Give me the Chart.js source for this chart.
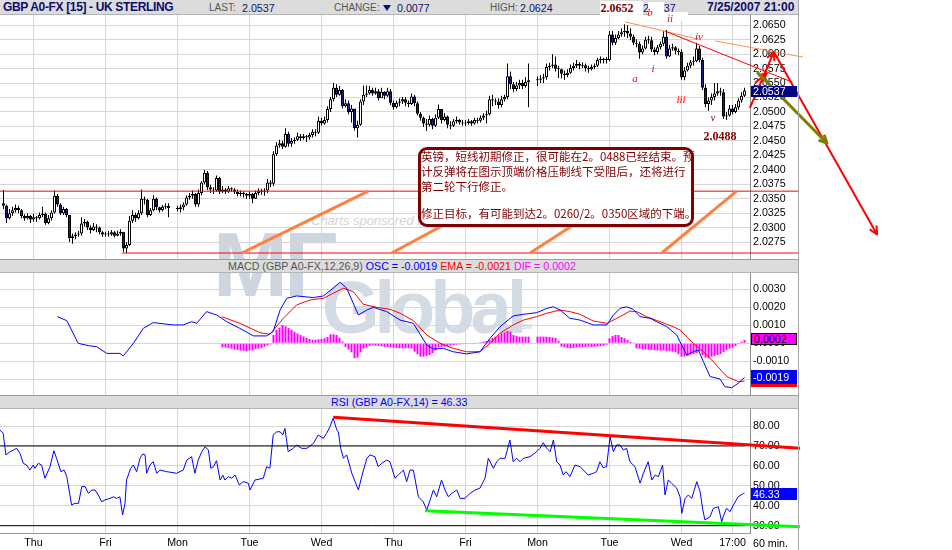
<!DOCTYPE html>
<html>
<head>
<meta charset="utf-8">
<title>GBP A0-FX [15] - UK STERLING</title>
<script src="https://cdn.jsdelivr.net/npm/chart.js@4.4.1/dist/chart.umd.min.js"></script>
<style>
html, body { margin:0; padding:0; background:#fff; }
#page { position:relative; width:952px; height:550px; overflow:hidden; font-family:"Liberation Sans", Arial, sans-serif; }
.strip { position:absolute; left:0; width:798px; height:12px; background:#dcdcdc; border-top:1px solid #9c9c9c; border-bottom:1px solid #b4b4b4; z-index:1; }
.wm { position:absolute; white-space:nowrap; z-index:0; }
canvas { position:absolute; left:0; z-index:2; }
.t { position:absolute; white-space:nowrap; z-index:4; font-size:10.67px; line-height:12px; }
.lab { color:#555; font-size:10px; }
.val { color:#101070; }
.box { position:absolute; left:751px; width:46px; z-index:4; font-size:10.67px; padding-left:2px; box-sizing:border-box; }
.rn { position:absolute; z-index:4; font-family:"Liberation Serif", "Times New Roman", serif; font-style:italic; color:#ff0000; font-size:11px; line-height:11px; transform:translate(-50%,-50%); white-space:nowrap; }
.big { font-style:normal; font-weight:bold; color:#800000; font-size:12px; }
.note { position:absolute; left:418px; top:147px; width:270px; height:74px; border:3px solid #800000; border-radius:9px; background:#fff; z-index:3; }
.nl { position:absolute; left:421px; z-index:4; font-family:"Noto Sans CJK SC", sans-serif; font-size:11.5px; line-height:15px; color:#800000; white-space:nowrap; }
</style>
</head>
<body>
<div id="page">
  <!-- watermark -->
  <div class="wm" style="left:311px;top:213px;font:italic 13px 'Liberation Sans';color:#d4d4d4">Charts sponsored by</div>
  <div class="wm" style="left:213px;top:220px;font:bold 90px/90px 'Liberation Sans';color:#cdd6e0;letter-spacing:-4px">MF</div>
  <div class="wm" style="left:322px;top:271px;font:bold 74px/74px 'Liberation Sans';color:#d3dbe4;letter-spacing:-5px">Global</div>
  <div class="wm" style="left:521px;top:323px;font:bold 7px 'Liberation Sans';color:#d3dbe4">SM</div>

  <!-- header strips -->
  <div class="strip" style="top:0;height:14px;border-top:0"></div>
  <div class="strip" style="top:259px"></div>
  <div class="strip" style="top:395px"></div>
  <div style="position:absolute;left:798px;top:0;width:1px;height:550px;background:#a8a8a8;z-index:4"></div>

  <div class="t" style="left:3px;top:1px;font-weight:bold;font-size:12px;letter-spacing:-0.35px;color:#0c0c6c">GBP A0-FX [15] - UK STERLING</div>
  <div class="t lab" style="left:209px;top:2px">LAST:</div>
  <div class="t val" style="left:242px;top:2px">2.0537</div>
  <div class="t lab" style="left:334px;top:2px">CHANGE:</div>
  <div style="position:absolute;left:383px;top:5px;width:0;height:0;border-left:4px solid transparent;border-right:4px solid transparent;border-top:6px solid #101070;z-index:4"></div>
  <div class="t val" style="left:397px;top:2px">0.0077</div>
  <div class="t lab" style="left:490px;top:2px">HIGH:</div>
  <div class="t val" style="left:520px;top:2px">2.0624</div>
  <div class="t val" style="left:643px;top:2px">2.0537</div>
  <div class="t" style="left:707px;top:1px;font-weight:bold;font-size:12px;color:#0c0c6c">7/25/2007 21:00</div>

  <div class="t" style="left:228px;top:260px"><span style="color:#555">MACD (GBP A0-FX,12,26,9)</span> <span style="color:#0000ff">OSC = -0.0019</span> <span style="color:#ff0000">EMA = -0.0021</span> <span style="color:#ff00ff">DIF = 0.0002</span></div>
  <div class="t" style="left:331px;top:396px;color:#0000ff">RSI (GBP A0-FX,14) = 46.33</div>
  <div class="t" style="left:753px;top:537px;color:#000">60 min.</div>

  <canvas id="price" width="952" height="244" style="top:15px"></canvas>
  <canvas id="macd" width="952" height="122" style="top:273px"></canvas>
  <canvas id="rsi" width="952" height="141" style="top:409px"></canvas>

  <!-- last-value boxes -->
  <div class="box" style="top:86px;height:11px;line-height:11px;background:#000080;color:#fff">2.0537</div>
  <div class="box" style="top:333px;height:12px;line-height:10px;background:#ff00ff;color:#000;border:1px solid #000">0.0002</div>
  <div class="box" style="top:384px;height:3px;background:#ff0000"></div>
  <div class="box" style="top:370px;height:14px;line-height:14px;background:#0000ff;color:#fff">-0.0019</div>
  <div class="box" style="top:488px;height:12px;line-height:12px;background:#0000ff;color:#fff">46.33</div>

  <!-- wave labels -->
  <div style="position:absolute;left:600px;top:1px;width:43px;height:14px;background:#fff;z-index:4"></div>
  <div class="rn big" style="left:617px;top:8px">2.0652</div>
  <div style="position:absolute;left:648px;top:2px;width:16px;height:15px;background:#fff;z-index:4"></div>
  <div style="position:absolute;left:660px;top:12px;width:28px;height:9px;background:#fff;z-index:4"></div>
  <div class="rn" style="left:650px;top:12px">b</div>
  <div class="rn" style="left:670px;top:18px">ii</div>
  <div class="rn" style="left:635px;top:78px">a</div>
  <div class="rn" style="left:653px;top:68px">i</div>
  <div class="rn" style="left:681px;top:99px">iii</div>
  <div class="rn" style="left:699px;top:36px">iv</div>
  <div class="rn" style="left:713px;top:117px;color:#800000">v</div>
  <div class="rn big" style="left:720px;top:136px">2.0488</div>

  <!-- comment box -->
  <div class="note"></div>
  <div class="nl" style="top:149px">英镑，短线初期修正，很可能在2。0488已经结束。预</div>
  <div class="nl" style="top:164px">计反弹将在图示顶端价格压制线下受阻后，还将进行</div>
  <div class="nl" style="top:179px">第二轮下行修正。</div>
  <div class="nl" style="top:206px">修正目标，有可能到达2。0260/2。0350区域的下端。</div>
</div>

<script>
// hourly bars; hour 0 = first Thursday 00:00, weekend hours skipped
const firstHour = -10;
const firstOpen = 2.0342;

const closes = [
  2.0338,2.0316,2.0325,2.0330,2.0334,2.0330,2.0320,2.0316,2.0320,2.0314,
  2.0318,2.0316,2.0322,2.0324,2.0308,2.0316,2.0326,2.0355,2.0340,2.0325,2.0332,2.0322,
  2.0282,2.0285,2.0288,2.0290,2.0307,2.0310,2.0300,2.0296,2.0302,2.0300,2.0292,2.0288,
  2.0289,2.0288,2.0292,2.0286,2.0290,2.0293,2.0264,2.0270,2.0312,2.0322,2.0316,2.0325,
  2.0350,2.0348,2.0322,2.0330,2.0350,2.0335,2.0330,2.0336,2.0338,2.0334,null,null,
  2.0332,2.0335,2.0340,2.0352,2.0355,2.0358,2.0340,2.0360,2.0378,2.0395,2.0370,2.0366,
  2.0364,2.0386,2.0362,2.0366,2.0362,2.0368,2.0366,2.0362,2.0358,2.0360,2.0358,2.0355,
  2.0358,2.0350,2.0360,2.0364,2.0362,2.0364,2.0378,2.0376,2.0427,2.0442,2.0446,2.0440,
  2.0462,2.0445,2.0450,2.0452,2.0458,2.0455,2.0458,2.0456,2.0460,2.0466,2.0464,2.0485,
  2.0480,2.0486,2.0505,2.0522,2.0542,2.0530,2.0538,2.0510,2.0515,2.0500,2.0506,2.0472,
  2.0478,2.0518,2.0530,2.0532,2.0538,2.0532,2.0536,2.0524,2.0535,2.0528,2.0536,2.0516,
  2.0508,2.0516,2.0518,2.0522,2.0516,2.0514,2.0527,2.0515,2.0497,2.0490,2.0480,2.0478,
  2.0488,2.0476,2.0490,2.0505,2.0486,2.0492,2.0478,2.0476,2.0484,2.0486,2.0482,2.0480,
  2.0481,2.0484,2.0480,2.0486,2.0485,2.0490,2.0494,2.0496,2.0522,2.0520,2.0518,2.0512,
  2.0522,2.0526,2.0562,2.0548,2.0540,2.0546,2.0550,2.0545,2.0552,2.0555,null,null,
  2.0556,2.0558,2.0560,2.0578,2.0580,2.0582,2.0575,2.0574,2.0566,2.0564,2.0568,2.0576,
  2.0580,2.0583,2.0580,2.0581,2.0576,2.0574,2.0578,2.0580,2.0590,2.0592,2.0590,2.0590,
  2.0634,2.0620,2.0628,2.0634,2.0638,2.0640,2.0636,2.0630,2.0620,2.0618,2.0603,2.0610,
  2.0625,2.0624,2.0608,2.0604,2.0612,2.0618,2.0630,2.0596,2.0610,2.0612,2.0606,2.0604,
  2.0560,2.0572,2.0580,2.0586,2.0588,2.0610,2.0590,2.0542,2.0514,2.0520,2.0526,2.0532,
  2.0536,2.0534,2.0492,2.0494,2.0506,2.0500,2.0508,2.0520,2.0528,2.0537
];
const highs = [
  2.0365,2.0340,2.0332,2.0336,2.0340,2.0338,2.0332,2.0323,2.0325,2.0322,
  2.0324,2.0320,2.0326,2.0336,2.0326,2.0322,2.0330,2.0364,2.0358,2.0342,2.0336,2.0334,
  2.0322,2.0290,2.0292,2.0294,2.0318,2.0315,2.0312,2.0304,2.0308,2.0306,2.0302,2.0294,
  2.0293,2.0294,2.0296,2.0294,2.0295,2.0297,2.0290,2.0275,2.0320,2.0330,2.0326,2.0330,
  2.0366,2.0354,2.0350,2.0334,2.0356,2.0352,2.0336,2.0339,2.0342,2.0342,null,null,
  2.0338,2.0340,2.0344,2.0356,2.0360,2.0364,2.0360,2.0366,2.0380,2.0400,2.0398,2.0374,
  2.0370,2.0390,2.0388,2.0372,2.0368,2.0372,2.0370,2.0368,2.0366,2.0364,2.0362,2.0360,
  2.0362,2.0360,2.0364,2.0368,2.0367,2.0368,2.0384,2.0382,2.0432,2.0448,2.0452,2.0450,
  2.0472,2.0466,2.0455,2.0456,2.0464,2.0462,2.0462,2.0460,2.0464,2.0470,2.0470,2.0492,
  2.0490,2.0492,2.0510,2.0526,2.0550,2.0548,2.0545,2.0540,2.0522,2.0520,2.0512,2.0505,
  2.0485,2.0522,2.0546,2.0546,2.0545,2.0542,2.0542,2.0540,2.0542,2.0536,2.0542,2.0540,
  2.0520,2.0520,2.0524,2.0526,2.0526,2.0520,2.0532,2.0530,2.0518,2.0500,2.0492,2.0488,
  2.0494,2.0490,2.0496,2.0513,2.0505,2.0498,2.0494,2.0484,2.0488,2.0492,2.0488,2.0486,
  2.0486,2.0488,2.0486,2.0490,2.0490,2.0494,2.0498,2.0502,2.0528,2.0530,2.0524,2.0524,
  2.0528,2.0530,2.0584,2.0570,2.0552,2.0552,2.0556,2.0556,2.0560,2.0584,null,null,
  2.0562,2.0564,2.0566,2.0584,2.0585,2.0600,2.0596,2.0580,2.0575,2.0572,2.0574,2.0582,
  2.0585,2.0590,2.0586,2.0586,2.0584,2.0580,2.0582,2.0584,2.0594,2.0596,2.0594,2.0595,
  2.0640,2.0640,2.0634,2.0640,2.0645,2.0652,2.0650,2.0645,2.0634,2.0626,2.0622,2.0615,
  2.0630,2.0632,2.0630,2.0612,2.0616,2.0622,2.0640,2.0642,2.0616,2.0618,2.0614,2.0610,
  2.0608,2.0578,2.0585,2.0590,2.0596,2.0620,2.0614,2.0594,2.0548,2.0525,2.0532,2.0550,
  2.0550,2.0542,2.0540,2.0500,2.0512,2.0512,2.0514,2.0524,2.0534,2.0542
];
const lows = [
  2.0332,2.0308,2.0314,2.0320,2.0326,2.0325,2.0316,2.0312,2.0314,2.0308,
  2.0310,2.0310,2.0314,2.0318,2.0305,2.0306,2.0312,2.0324,2.0336,2.0322,2.0322,2.0318,
  2.0275,2.0272,2.0280,2.0284,2.0286,2.0302,2.0296,2.0290,2.0294,2.0292,2.0288,2.0284,
  2.0284,2.0284,2.0286,2.0283,2.0285,2.0286,2.0258,2.0256,2.0268,2.0308,2.0310,2.0314,
  2.0322,2.0340,2.0318,2.0320,2.0328,2.0330,2.0326,2.0328,2.0332,2.0318,null,null,
  2.0328,2.0326,2.0330,2.0338,2.0348,2.0350,2.0336,2.0336,2.0356,2.0375,2.0365,2.0360,
  2.0358,2.0362,2.0358,2.0360,2.0358,2.0360,2.0362,2.0358,2.0354,2.0354,2.0352,2.0350,
  2.0350,2.0342,2.0350,2.0356,2.0357,2.0355,2.0360,2.0370,2.0372,2.0424,2.0438,2.0436,
  2.0438,2.0440,2.0440,2.0445,2.0450,2.0450,2.0452,2.0448,2.0452,2.0456,2.0458,2.0462,
  2.0476,2.0478,2.0482,2.0500,2.0518,2.0526,2.0528,2.0506,2.0508,2.0496,2.0482,2.0468,
  2.0456,2.0476,2.0512,2.0526,2.0530,2.0528,2.0530,2.0520,2.0526,2.0522,2.0526,2.0512,
  2.0504,2.0506,2.0510,2.0514,2.0510,2.0508,2.0512,2.0510,2.0494,2.0485,2.0474,2.0467,
  2.0475,2.0470,2.0474,2.0488,2.0480,2.0484,2.0472,2.0470,2.0474,2.0480,2.0478,2.0476,
  2.0476,2.0478,2.0476,2.0478,2.0480,2.0482,2.0486,2.0480,2.0494,2.0510,2.0512,2.0506,
  2.0508,2.0518,2.0522,2.0540,2.0534,2.0536,2.0540,2.0540,2.0542,2.0508,null,null,
  2.0545,2.0550,2.0550,2.0556,2.0572,2.0576,2.0570,2.0559,2.0558,2.0556,2.0560,2.0566,
  2.0572,2.0576,2.0574,2.0576,2.0570,2.0568,2.0572,2.0574,2.0578,2.0584,2.0584,2.0584,
  2.0588,2.0615,2.0616,2.0626,2.0630,2.0630,2.0628,2.0624,2.0616,2.0612,2.0592,2.0600,
  2.0608,2.0618,2.0604,2.0598,2.0600,2.0608,2.0614,2.0592,2.0595,2.0606,2.0600,2.0598,
  2.0556,2.0555,2.0570,2.0576,2.0580,2.0586,2.0586,2.0538,2.0508,2.0502,2.0512,2.0520,
  2.0528,2.0528,2.0488,2.0486,2.0492,2.0496,2.0498,2.0504,2.0516,2.0526
];

const dayHours  = [0, 24, 48, 72, 96, 120, 144, 168, 192, 216, 233];
const dayLabels = ['Thu','Fri','Mon','Tue','Wed','Thu','Fri','Mon','Tue','Wed','17:00'];

const priceTicks = [2.0275,2.0300,2.0325,2.0350,2.0375,2.0400,2.0425,2.0450,2.0475,2.0500,2.0525,2.0550,2.0575,2.0600,2.0625,2.0650];
const macdTicks  = [-0.002,-0.001,0,0.001,0.002,0.003];
const rsiTicks   = [30,40,50,60,70,80];

// MACD (blue) and its EMA signal (red), read at turning points
const macdHours = [7.9,11.1,14.9,18.3,21.1,24.4,28.8,29.9,33.3,36.6,39.9,46.6,49.9,52.7,54.4,57.7,61.1,64.4,68.8,73.3,77.7,79.9,82.2,84.4,87.7,93.3,96.6,99.9,102.2,104.4,108.3,111.1,113.3,117.7,122.2,126.6,131.1,133.3,136.6,139.9,144.4,148.8,152.2,155.5,159.9,163.3,167.7,171.1,173.3,175.5,178.8,182.2,186.6,191.1,193.3,195.5,197.7,199.9,202.2,205.5,207.7,211.1,214.4,217.7,219.9,221.6,223.3,225.5,228.8,230.5,232.7,234.9,237];
const macdLine  = [0.00148,0.00126,0,-0.00013,-0.00019,-0.00056,-0.00056,-0.00071,0,0.00083,0.00115,0.00102,0.00102,0.0012,0.00111,0.00176,0.00157,0.0012,0.00083,0.00041,0.00041,0.00065,0.00185,0.0025,0.00263,0.00254,0.00263,0.00306,0.00339,0.00306,0.00157,0.00185,0.002,0.00176,0.00129,0.00111,-0.0001,-0.00032,-0.00028,-0.00047,-0.00059,-0.00047,0.00028,0.00092,0.00152,0.00161,0.0017,0.00194,0.00203,0.00185,0.00139,0.00129,0.00102,0.00102,0.00157,0.00194,0.00203,0.00189,0.00148,0.00139,0.0012,0.00092,0.00046,-0.00065,-0.00047,-0.00037,-0.00102,-0.00185,-0.00198,-0.00241,-0.00247,-0.00222,-0.0019];
const signalHours = [62.7,68.8,75.5,78.8,83.3,87.7,92.2,96.6,99.9,103.3,106.6,109.9,114.4,118.8,122.2,126.6,131.1,135.5,139.9,144.4,148.8,152.2,155.5,159.9,163.3,167.7,171.1,175.5,178.8,182.2,186.6,191.1,195.5,198.8,201.1,204.4,208.8,213.3,215.5,219.9,223.3,226.6,231.1,234.9,237];
const signalLine  = [0.00148,0.00111,0.00059,0.0005,0.00139,0.00213,0.00241,0.0025,0.00278,0.00306,0.00287,0.00217,0.002,0.00189,0.00167,0.00126,0.00046,0,-0.00028,-0.00047,-0.00047,0,0.00056,0.00102,0.00129,0.00148,0.00167,0.00185,0.00176,0.00161,0.00124,0.00111,0.00148,0.00179,0.00176,0.00148,0.0012,0.00092,0.00074,0,-0.00047,-0.00102,-0.00185,-0.00213,-0.0021];

// MACD histogram, one bar per hour starting at histStart
const histStart = 63;
const histogram = [
  -0.00022,-0.00024,-0.00026,-0.0003,-0.00035,-0.00037,-0.0004,-0.00042,-0.00043,-0.0004,-0.00038,-0.00032,-0.0003,-0.00026,-0.0002,-0.00012,-0.00006,
  0.00046,0.00075,0.00087,0.00102,0.00095,0.00085,0.00075,0.00065,0.00055,0.00046,0.00038,0.0003,0.00024,0.0002,0.0002,0.00022,0.00024,0.00028,0.00035,0.0005,
  0.0005,0.00046,0.0003,0.0001,-0.0002,-0.00035,-0.0005,-0.00083,-0.0008,-0.0005,-0.0003,-0.00024,-0.00015,-0.00012,-0.00013,-0.00014,-0.00017,-0.0002,-0.0002,-0.00022,
  -0.00024,-0.00026,-0.00028,-0.00028,-0.00028,-0.00028,-0.0003,-0.00046,-0.0006,-0.00074,-0.00074,-0.0007,-0.00065,-0.00055,-0.0004,-0.00022,-0.0002,-0.00018,-0.00015,-0.00012,
  -0.0001,-0.00008,-0.00006,-0.00005,-0.00004,-0.00003,-0.00002,-0.00001,0.00002,0.00005,0.0001,0.00013,0.0002,0.0003,0.00037,0.00045,0.00056,0.0006,0.00068,0.00065,
  0.00046,0.0004,0.00037,0.00037,0.00037,0.00037,null,null,0.00037,0.00037,0.00037,0.00037,0.00035,0.00033,0.0003,0.00013,-0.00018,-0.00022,-0.00026,-0.00028,
  -0.00026,-0.00024,-0.00022,-0.00022,-0.0002,-0.00018,-0.0002,-0.0002,-0.00018,-0.00016,-0.00014,-0.00008,0.00028,0.0004,0.00046,0.00046,0.00035,0.00028,0.00018,0.00008,
  0.00004,-0.00028,-0.0003,-0.00032,-0.00034,-0.00036,-0.00037,-0.00038,-0.0004,-0.0004,-0.0004,-0.00042,-0.00044,-0.00046,-0.0005,-0.0006,-0.00074,-0.00074,-0.0007,-0.00064,
  -0.0006,-0.00055,-0.00046,-0.00065,-0.0008,-0.00083,-0.00074,-0.0007,-0.00065,-0.0006,-0.00048,-0.00037,-0.0003,-0.00025,-0.00015,-0.00005,0.00008,0.00019
];

// RSI(14)
const rsiHours = [-11.2,-10.1,-9.2,-7.8,-5.6,-4.5,-3.4,-2.3,-1.2,-0.1,0.5,1.6,2.7,3.8,5.5,6.8,7.7,9.1,10.2,11.1,12.7,13.8,15.0,16.1,17.2,18.3,19.4,20.5,21.6,22.7,23.8,25.5,26.6,27.7,28.8,29.7,30.5,31.0,32.4,33.3,34.4,35.5,36.4,37.2,37.7,38.8,39.9,41.1,42.2,44.4,47.7,49.9,51.1,52.7,53.8,54.9,56.1,57.2,58.3,59.1,60.0,61.0,62.2,63.1,63.8,64.9,66.1,67.2,68.6,69.9,71.6,72.2,73.8,76.6,77.7,78.8,79.9,81.1,82.2,83.1,83.8,84.9,86.6,87.7,89.4,91.1,93.3,94.9,96.6,97.7,98.8,99.9,101.1,101.6,102.4,103.3,104.4,106.1,108.3,109.4,111.1,112.2,113.8,114.9,116.1,117.7,118.8,120.5,121.6,123.3,124.4,125.5,126.6,128.3,129.9,131.1,132.2,133.3,134.4,136.0,137.2,138.3,139.4,141.1,142.2,143.8,145.5,147.2,148.8,150.5,151.6,153.3,154.4,155.5,157.2,158.8,159.9,161.0,162.2,163.3,165.5,167.7,168.8,169.9,171.1,172.2,173.3,174.4,175.5,176.6,177.5,178.8,180.5,182.2,183.3,184.9,186.6,187.7,188.8,189.9,191.0,192.2,193.3,194.4,195.5,196.6,197.7,198.8,200.5,202.2,203.3,204.9,206.1,207.2,208.3,209.7,210.5,211.6,212.7,214.4,215.5,216.1,217.2,218.3,219.4,221.1,222.2,223.1,223.8,225.5,226.6,228.3,229.4,229.9,231.0,232.2,233.3,234.9,236.6,237];
const rsiLine  = [78.0,76.3,65.5,67.1,68.8,66.3,61.3,60.4,57.9,60.4,58.8,61.3,60.4,53.8,59.6,67.6,63.8,57.1,57.9,54.6,40.4,41.2,41.2,49.6,49.6,46.2,47.9,47.9,45.4,42.0,42.9,43.7,44.5,43.7,44.5,35.4,41.2,52.9,58.8,60.4,57.1,63.8,66.0,65.5,56.3,60.4,62.1,56.3,57.9,57.1,56.3,57.9,62.9,64.6,56.3,62.9,67.1,69.6,68.0,58.8,59.6,62.6,52.9,55.4,52.9,54.6,53.8,55.4,50.4,52.1,51.3,47.9,52.9,53.8,59.6,58.8,75.5,77.1,77.1,75.5,78.8,67.1,68.8,70.5,68.8,68.8,71.3,75.5,73.8,76.3,79.6,83.9,78.0,77.1,68.8,63.8,65.5,56.3,47.9,54.6,63.8,65.5,64.6,59.6,61.3,62.9,62.1,53.8,55.4,57.9,52.1,57.9,57.9,44.5,42.0,37.9,42.9,47.9,44.5,52.9,47.9,44.5,46.2,47.9,43.7,43.7,46.2,47.9,48.8,53.8,63.8,58.8,62.1,63.8,63.8,73.0,62.1,63.8,62.1,63.8,64.6,67.1,68.8,71.6,68.8,67.1,73.0,62.1,60.4,55.4,57.1,54.6,60.4,59.6,57.9,55.4,56.3,57.1,62.1,59.1,59.6,74.6,67.1,70.5,70.5,68.0,68.8,62.1,59.6,51.3,56.3,62.1,52.9,55.4,54.6,60.4,45.4,52.9,51.3,48.8,44.5,36.2,43.7,45.4,43.7,52.1,47.1,37.9,32.9,34.5,38.7,39.5,32.0,34.5,38.7,37.0,40.4,44.5,46.2,46.33];

// analyst drawings, in [hour, value] coordinates
const priceDrawings = [
  { pts:[[-11.17,2.0363],[255.2,2.0363]], color:'#ff0000', width:1 },
  { pts:[[29.4,2.0256],[255.2,2.0256]], color:'#ff0000', width:1 },
  { pts:[[69.4,2.0256],[111.6,2.0363]], color:'#ff8040', width:3 },
  { pts:[[119.4,2.0256],[157.7,2.0363]], color:'#ff8040', width:3 },
  { pts:[[165.5,2.0256],[197.4,2.0363]], color:'#ff8040', width:3 },
  { pts:[[209.4,2.0256],[234.4,2.0363]], color:'#ff8040', width:3 },
  { pts:[[197.2,2.0656],[221.5,2.0626]], color:'#ff8c50', width:1 },
  { pts:[[210.5,2.0640],[252.8,2.0552]], color:'#ff0000', width:1 },
  { pts:[[227.2,2.0623],[256.5,2.0595]], color:'#ff8c50', width:1 },
  { pts:[[238.8,2.0507],[246.8,2.0604],[281.2,2.0288]], color:'#ff0000', width:2, arrow:true },
  { pts:[[240.5,2.0550],[244.4,2.0567]], color:'#ff0000', width:2, arrow:true },
  { pts:[[241.2,2.0569],[264.5,2.0446]], color:'#808000', width:3, arrow:true }
];
const rsiDrawings = [
  { pts:[[-11.17,70],[237.3,70]], color:'#000000', width:1 },
  { pts:[[-11.17,30],[237.3,30]], color:'#000000', width:1 },
  { pts:[[99.9,84.4],[255.5,68.8]], color:'#ff0000', width:3 },
  { pts:[[130.5,37.5],[255.5,29.5]], color:'#00ff00', width:3 }
];

const FONT = '"Liberation Sans", Arial, sans-serif';
const X_MIN = -11.1667, X_MAX = 238.8333;

// build candle pieces (an hourly FX bar opens at the previous close)
const wicks = [], bodies = [], bodyColors = [];
let prevClose = firstOpen;
closes.forEach((c, i) => {
  if (c == null) return;
  const h = firstHour + i;
  wicks.push({ x: h, y: [lows[i], highs[i]] });
  bodies.push({ x: h, y: [prevClose, c] });
  bodyColors.push(c >= prevClose ? '#ffffff' : '#1c1c82');
  prevClose = c;
});

const histBars = [];
histogram.forEach((v, i) => { if (v != null) histBars.push({ x: histStart + i, y: v }); });
const pairs = (xs, ys) => xs.map((h, i) => ({ x: h, y: ys[i] }));

function arrowHead(ctx, a, b, len) {
  const ang = Math.atan2(b[1] - a[1], b[0] - a[0]);
  ctx.beginPath();
  ctx.moveTo(b[0] - len * Math.cos(ang - 0.45), b[1] - len * Math.sin(ang - 0.45));
  ctx.lineTo(b[0], b[1]);
  ctx.lineTo(b[0] - len * Math.cos(ang + 0.45), b[1] - len * Math.sin(ang + 0.45));
  ctx.stroke();
}

function drawingsPlugin(list) {
  return {
    id: 'drawings',
    afterDraw(chart) {
      const { ctx } = chart, xs = chart.scales.x, ys = chart.scales.y;
      ctx.save();
      ctx.lineJoin = 'round';
      list.forEach(d => {
        const p = d.pts.map(([h, v]) => [xs.getPixelForValue(h), ys.getPixelForValue(v)]);
        ctx.strokeStyle = d.color;
        ctx.lineWidth = d.width;
        ctx.beginPath();
        p.forEach(([px, py], i) => i ? ctx.lineTo(px, py) : ctx.moveTo(px, py));
        ctx.stroke();
        if (d.arrow) for (let i = 1; i < p.length; i++) arrowHead(ctx, p[i - 1], p[i], 9);
      });
      ctx.restore();
    }
  };
}

function xScale(showLabels) {
  return {
    type: 'linear', min: X_MIN, max: X_MAX, offset: false,
    grid: { color: '#d6d6d6', drawTicks: false, offset: false },
    border: { display: showLabels, color: '#9a9a9a' },
    ticks: { display: showLabels, autoSkip: false, maxRotation: 0, padding: 4, color: '#000',
             font: { family: FONT, size: 10.67 }, callback: (v, i) => dayLabels[i] },
    afterBuildTicks: s => { s.ticks = dayHours.map(v => ({ value: v })); },
    afterFit: s => { s.height = showLabels ? 17 : 0; s.paddingLeft = 0; s.paddingRight = 0; }
  };
}
function yScale(min, max, ticks, digits) {
  return {
    type: 'linear', position: 'right', min, max,
    grid: { color: '#d6d6d6', drawTicks: false },
    border: { display: true, color: '#8c8c8c' },
    ticks: { color: '#000', padding: 3, autoSkip: false, font: { family: FONT, size: 10.67 }, callback: v => v.toFixed(digits) },
    afterBuildTicks: s => { s.ticks = ticks.map(v => ({ value: v })); },
    afterFit: s => { s.width = 50; s.paddingTop = 0; s.paddingBottom = 0; }
  };
}
const common = {
  responsive: false, animation: false, devicePixelRatio: 1, events: [],
  layout: { padding: { left: 0, right: 152, top: 0, bottom: 0 } },
  plugins: { legend: { display: false }, tooltip: { enabled: false } }
};

new Chart(document.getElementById('price'), {
  type: 'bar',
  data: { datasets: [
    { data: wicks, backgroundColor: '#000', borderWidth: 0, barThickness: 1, inflateAmount: 0, grouped: false, order: 2 },
    { data: bodies, backgroundColor: bodyColors, borderColor: '#000', borderWidth: 1, borderSkipped: false,
      barThickness: 3, minBarLength: 1, inflateAmount: 0, grouped: false, order: 1 }
  ] },
  options: { ...common, scales: { x: xScale(false), y: yScale(2.024567, 2.066782, priceTicks, 4) } },
  plugins: [drawingsPlugin(priceDrawings)]
});

new Chart(document.getElementById('macd'), {
  type: 'bar',
  data: { datasets: [
    { data: histBars, backgroundColor: '#ff00ff', borderWidth: 0, barThickness: 2, inflateAmount: 0, grouped: false, order: 3 },
    { type: 'line', data: pairs(signalHours, signalLine), borderColor: '#ff0000', borderWidth: 1, pointRadius: 0, tension: 0, order: 2 },
    { type: 'line', data: pairs(macdHours, macdLine), borderColor: '#0000ff', borderWidth: 1, pointRadius: 0, tension: 0, order: 1 }
  ] },
  options: { ...common, scales: { x: xScale(false), y: yScale(-0.0028722, 0.0039056, macdTicks, 4) } }
});

new Chart(document.getElementById('rsi'), {
  type: 'line',
  data: { datasets: [
    { data: pairs(rsiHours, rsiLine), borderColor: '#0000ff', borderWidth: 1, pointRadius: 0, tension: 0 }
  ] },
  options: { ...common, scales: { x: xScale(true), y: yScale(26.34, 88.53, rsiTicks, 2) } },
  plugins: [drawingsPlugin(rsiDrawings)]
});
</script>
</body>
</html>
